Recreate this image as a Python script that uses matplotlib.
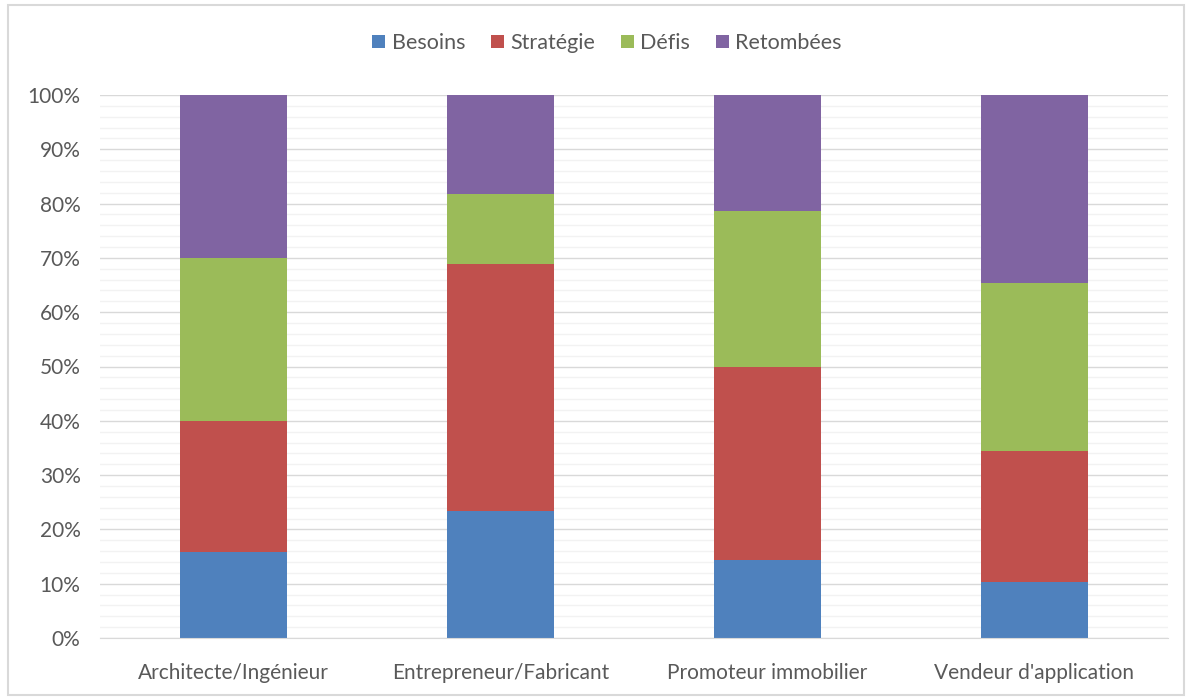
import matplotlib.pyplot as plt
import numpy as np
from matplotlib.patches import Rectangle
from matplotlib.ticker import MultipleLocator, PercentFormatter

plt.rcParams['font.family'] = ['Lato', 'DejaVu Sans']

categories = ['Architecte/Ingénieur', 'Entrepreneur/Fabricant',
              'Promoteur immobilier', "Vendeur d'application"]
series = ['Besoins', 'Stratégie', 'Défis', 'Retombées']
besoins = [15.8, 23.4, 14.3, 10.3]
strategie = [24.2, 45.5, 35.7, 24.1]
defis = [30.0, 12.9, 28.6, 31.0]
retombees = [30.0, 18.2, 21.4, 34.6]
colors = ['#4F81BD', '#C0504D', '#9BBB59', '#8064A2']
text_col = '#595959'

fig = plt.figure(figsize=(11.86, 6.98), dpi=100)
ax = fig.add_axes([100 / 1186, 60 / 698, 1068 / 1186, 543 / 698])

x = np.arange(len(categories))
bottom = np.zeros(len(categories))
for name, vals, c in zip(series, [besoins, strategie, defis, retombees], colors):
    ax.bar(x, vals, 0.4, bottom=bottom, color=c, label=name, zorder=3)
    bottom += np.array(vals)

ax.set_xlim(-0.5, 3.5)
ax.set_ylim(0, 100)
ax.yaxis.set_major_locator(MultipleLocator(10))
ax.yaxis.set_minor_locator(MultipleLocator(2))
ax.yaxis.set_major_formatter(PercentFormatter(decimals=0))
ax.grid(axis='y', which='minor', color='#F2F2F2', linewidth=1, zorder=0)
ax.grid(axis='y', which='major', color='#D9D9D9', linewidth=1, zorder=1)
for s in ['top', 'right', 'left']:
    ax.spines[s].set_visible(False)
ax.spines['bottom'].set_color('#D9D9D9')
ax.spines['bottom'].set_zorder(4)
ax.tick_params(axis='both', which='both', length=0, colors=text_col, labelsize=15)
ax.tick_params(axis='y', pad=14)
ax.tick_params(axis='x', pad=18)
ax.set_xticks(x)
ax.set_xticklabels(categories)

fig.legend(loc='center', bbox_to_anchor=(607 / 1186, 1 - 43 / 698), ncol=4, frameon=False,
           fontsize=15.5, labelcolor=text_col, handlelength=0.6, handleheight=0.6,
           handletextpad=0.3, columnspacing=1.2)

fig.patches.append(Rectangle((8 / 1186, 3 / 698), 1176 / 1186, 690 / 698,
                             transform=fig.transFigure, fill=False,
                             edgecolor='#D9D9D9', linewidth=1.5))

fig.savefig('out.png', dpi=100, facecolor='white')
